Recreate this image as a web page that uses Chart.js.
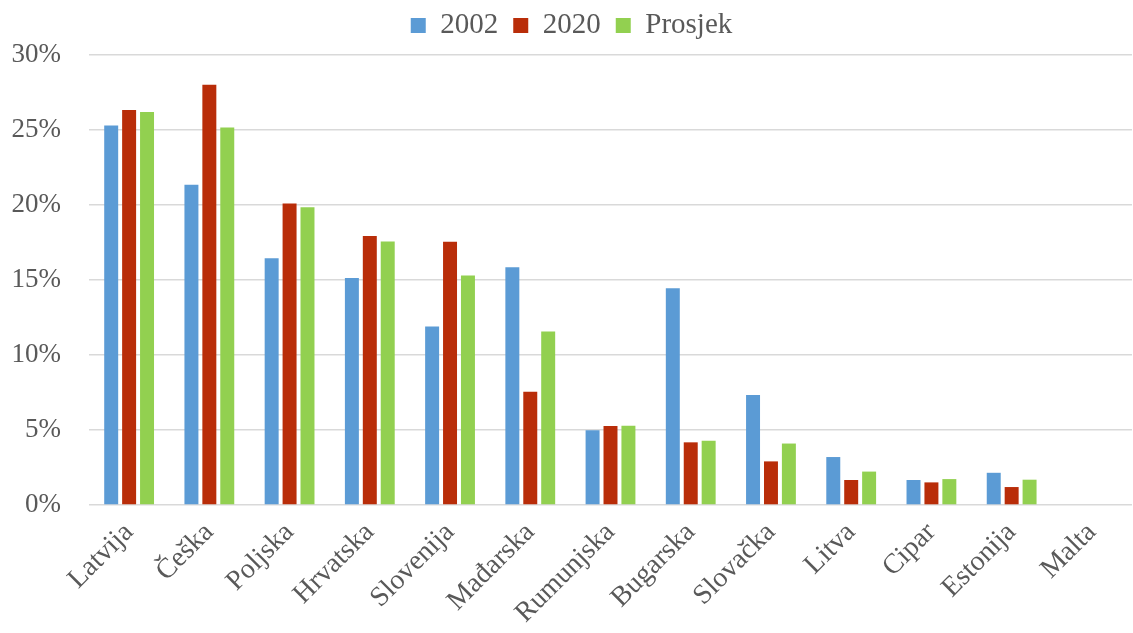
<!DOCTYPE html>
<html>
<head>
<meta charset="utf-8">
<script src="https://cdn.jsdelivr.net/npm/chart.js@4.4.1/dist/chart.umd.min.js"></script>
<style>
    html, body { margin: 0; padding: 0; background: #fff; }
    #wrap { width: 1133px; height: 633px; }
</style>
</head>
<body>
<div id="wrap"><canvas id="chart"></canvas></div>
<script>
const countries = ['Latvija', 'Češka', 'Poljska', 'Hrvatska', 'Slovenija', 'Mađarska', 'Rumunjska',
    'Bugarska', 'Slovačka', 'Litva', 'Cipar', 'Estonija', 'Malta'];
const values2002 = [25.3, 21.35, 16.45, 15.13, 11.9, 15.85, 4.98, 14.45, 7.33, 3.2, 1.67, 2.15, 0];
const values2020 = [26.33, 28.02, 20.1, 17.93, 17.55, 7.55, 5.27, 4.18, 2.91, 1.67, 1.51, 1.2, 0];
const valuesAvg = [26.2, 25.17, 19.85, 17.57, 15.3, 11.57, 5.29, 4.29, 4.1, 2.23, 1.73, 1.69, 0];
const yTicks = [0, 5, 10, 15, 20, 25, 30];

const serif = "'Liberation Serif', 'Times New Roman', serif";
const textColor = '#595959';

// a bit of extra room under the legend
const legendGap = {
    id: 'legendGap',
    beforeInit(chart) {
        const origFit = chart.legend.fit;
        chart.legend.fit = function () {
            origFit.call(this);
            this.height += 5;
        };
    }
};

const ctx = document.querySelector('#chart').getContext('2d');
new Chart(ctx, {
    type: 'bar',
    data: {
        labels: countries,
        datasets: [
            { label: '2002', data: values2002, backgroundColor: '#5B9BD5' },
            { label: '2020', data: values2020, backgroundColor: '#B92D09' },
            { label: 'Prosjek', data: valuesAvg, backgroundColor: '#92D050' }
        ]
    },
    options: {
        responsive: true,
        maintainAspectRatio: false,
        animation: false,
        layout: { padding: { left: 11, right: 1, top: -4, bottom: 0 } },
        datasets: {
            bar: { categoryPercentage: 0.67, barPercentage: 0.78 }
        },
        scales: {
            x: {
                grid: { display: false },
                border: { display: false },
                afterFit: scale => {
                    // rotated labels may hang left of the plot, as in the original
                    scale.paddingLeft = 0;
                    scale.paddingRight = 0;
                },
                ticks: {
                    color: textColor,
                    font: { family: serif, size: 28 },
                    minRotation: 45,
                    maxRotation: 45,
                    padding: 3
                }
            },
            y: {
                min: 0,
                max: 30,
                afterBuildTicks: axis => {
                    axis.ticks = yTicks.map(v => ({ value: v }));
                },
                afterFit: scale => {
                    scale.width = 78;
                },
                grid: { color: '#d9d9d9', lineWidth: 1.5, drawTicks: false },
                border: { display: false },
                ticks: {
                    color: textColor,
                    font: { family: serif, size: 27 },
                    padding: 28,
                    callback: v => v + '%'
                }
            }
        },
        plugins: {
            legend: {
                position: 'top',
                labels: {
                    color: textColor,
                    font: { family: serif, size: 29 },
                    boxWidth: 15,
                    boxHeight: 15,
                    padding: 15
                }
            },
            tooltip: { enabled: false }
        }
    },
    plugins: [legendGap]
});
</script>
</body>
</html>
